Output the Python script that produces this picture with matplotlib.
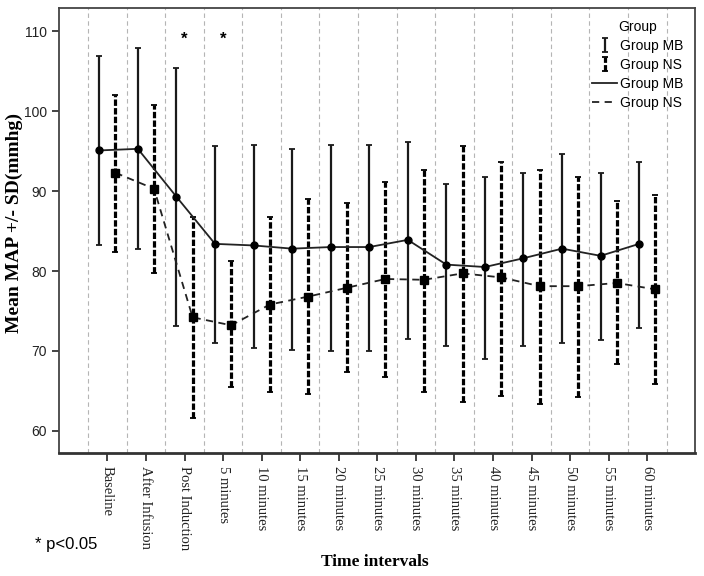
import matplotlib
matplotlib.use('Agg')
import matplotlib.pyplot as plt
import numpy as np

plt.rcParams['font.family'] = ['Liberation Sans', 'DejaVu Sans']

# Данные: среднее и границы +/- SD
labels = ['Baseline', 'After Infusion', 'Post Induction', '5 minutes', '10 minutes',
          '15 minutes', '20 minutes', '25 minutes', '30 minutes', '35 minutes',
          '40 minutes', '45 minutes', '50 minutes', '55 minutes', '60 minutes']

mb_mean = [95.1, 95.3, 89.3, 83.4, 83.2, 82.8, 83.0, 83.0, 83.9, 80.8, 80.5, 81.6, 82.8, 81.9, 83.4]
mb_upper = [106.9, 107.9, 105.4, 95.7, 95.8, 95.3, 95.8, 95.8, 96.1, 90.9, 91.8, 92.3, 94.6, 92.3, 93.6]
mb_lower = [83.2, 82.8, 73.1, 71.0, 70.3, 70.1, 70.0, 70.0, 71.5, 70.6, 69.0, 70.6, 71.0, 71.3, 72.8]

ns_mean = [92.3, 90.3, 74.2, 73.2, 75.8, 76.8, 77.9, 79.0, 78.9, 79.7, 79.2, 78.1, 78.1, 78.5, 77.7]
ns_upper = [102.1, 100.8, 86.8, 81.2, 86.8, 89.0, 88.5, 91.2, 92.7, 95.6, 93.7, 92.7, 91.8, 88.8, 89.5]
ns_lower = [82.4, 79.8, 61.6, 65.5, 64.8, 64.6, 67.3, 66.7, 64.8, 63.6, 64.4, 63.4, 64.2, 68.3, 65.8]

signif = ['Post Induction', '5 minutes']

x = np.arange(len(labels))
off = 0.21
mb_err = [np.subtract(mb_mean, mb_lower), np.subtract(mb_upper, mb_mean)]
ns_err = [np.subtract(ns_mean, ns_lower), np.subtract(ns_upper, ns_mean)]

fig = plt.figure(figsize=(7.04, 5.76), dpi=100)
ax = fig.add_axes([0.0838, 0.214, 0.903, 0.772])

# вертикальная сетка между категориями
for g in np.arange(-0.5, len(labels)):
    ax.axvline(g, color='#b5b5b5', ls=(0, (4, 3)), lw=0.8, zorder=0)

eb_mb = ax.errorbar(x - off, mb_mean, yerr=mb_err, fmt='none', ecolor='#1a1a1a',
                    elinewidth=1.6, capsize=2.5, capthick=1.3, label='Group MB')
eb_ns = ax.errorbar(x + off, ns_mean, yerr=ns_err, fmt='none', ecolor='black',
                    elinewidth=2.3, capsize=2.5, capthick=1.3, label='Group NS')
eb_ns[2][0].set_linestyle((0, (2, 0.7)))

ln_mb, = ax.plot(x - off, mb_mean, color='#222222', lw=1.3, label='Group MB')
ln_ns, = ax.plot(x + off, ns_mean, color='#222222', lw=1.3, ls=(0, (4, 3)), label='Group NS')
ax.plot(x - off, mb_mean, 'o', color='black', ms=5, ls='none')
ax.plot(x + off, ns_mean, 's', color='black', ms=5.5, ls='none')

for lab in signif:
    ax.text(labels.index(lab), 109.0, '*', ha='center', va='center', fontsize=12, fontweight='bold')

ax.set_xlim(-1.255, 15.23)
ax.set_ylim(57.24, 112.93)
ax.set_yticks([60, 70, 80, 90, 100, 110])
ax.set_xticks(x)
ax.set_xticklabels(labels, rotation=-90, family='Liberation Serif', fontsize=10.5)
ax.tick_params(axis='y', direction='out', length=5, width=1.2, labelsize=10, colors='#222222')
ax.tick_params(axis='x', direction='out', length=6, width=1.2, colors='#222222')
for s in ['left', 'top', 'right']:
    ax.spines[s].set_color('#444444')
    ax.spines[s].set_linewidth(1.3)
ax.spines['bottom'].set_color('#333333')
ax.spines['bottom'].set_linewidth(2)

fig.text(14 / 704, 0.612, 'Mean MAP +/- SD(mmhg)', rotation=90, ha='center', va='center',
         family='Liberation Serif', fontweight='bold', fontsize=14)
fig.text(375 / 704, 1 - 562 / 576, 'Time intervals', ha='center', va='center',
         family='Liberation Serif', fontweight='bold', fontsize=12.5)
fig.text(35 / 704, 1 - 545 / 576, '* p<0.05', ha='left', va='center', fontsize=12)

ax.legend(handles=[eb_mb, eb_ns, ln_mb, ln_ns],
          labels=['Group MB', 'Group NS', 'Group MB', 'Group NS'],
          title='Group', frameon=False, loc='upper left', bbox_to_anchor=(0.83, 0.985),
          fontsize=10, title_fontsize=10, handlelength=1.8, handletextpad=0.2,
          labelspacing=0.35, borderaxespad=0)

fig.savefig('out.png', dpi=100)
